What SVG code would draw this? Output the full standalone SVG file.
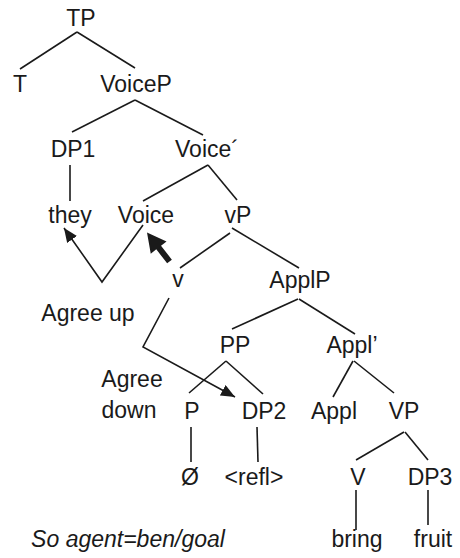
<svg xmlns="http://www.w3.org/2000/svg" width="460" height="558" viewBox="0 0 460 558">
<style>
text{font-family:"Liberation Sans",Arial,sans-serif;font-size:23px;fill:#1a1a1a;text-anchor:middle}
.it{font-style:italic}
.c line,.c polyline{stroke:#1a1a1a;stroke-width:1.6;fill:none}
.a{marker-end:url(#ah)}
</style>
<defs>
<marker id="ah" markerUnits="userSpaceOnUse" markerWidth="15" markerHeight="12" refX="14" refY="6" orient="auto">
<path d="M0,0 L14,6 L0,12 z" fill="#1a1a1a"/>
</marker>
</defs>
<rect width="460" height="558" fill="#fff"/>
<g class="c" id="connectors">
<line x1="77" y1="32" x2="20" y2="69"/>
<line x1="77" y1="32" x2="135" y2="68"/>
<line x1="135" y1="100" x2="72" y2="132"/>
<line x1="135" y1="100" x2="203" y2="135"/>
<line x1="70" y1="165" x2="70" y2="201"/>
<line x1="208" y1="165" x2="143" y2="201"/>
<line x1="208" y1="165" x2="237" y2="200"/>
<line x1="230" y1="233" x2="180" y2="268"/>
<line x1="232" y1="228" x2="299" y2="268"/>
<line x1="298" y1="299" x2="232" y2="329"/>
<line x1="299" y1="299" x2="355" y2="334"/>
<line x1="226" y1="361" x2="189" y2="393"/>
<line x1="226" y1="361" x2="263" y2="394"/>
<line x1="353" y1="361" x2="333" y2="397"/>
<line x1="354" y1="361" x2="394" y2="393"/>
<line x1="191" y1="427" x2="191" y2="462"/>
<line x1="257" y1="427" x2="258" y2="462"/>
<line x1="404" y1="432" x2="356" y2="460"/>
<line x1="405" y1="432" x2="428" y2="460"/>
<line x1="356" y1="490" x2="356" y2="530"/>
<line x1="428" y1="490" x2="428" y2="525"/>
<polyline class="a" points="143,225 102,282 64,228"/>
<polyline class="a" points="169,298 143,347 235,397"/>
<path d="M147,232.5 L166.55,241.38 L161.02,245.67 L171.87,259.66 L167.13,263.34 L156.28,249.35 L150.75,253.64 Z" fill="#1a1a1a"/>
</g>
<g id="TP"><text x="81" y="26">TP</text></g>
<g id="T"><text x="20" y="92">T</text></g>
<g id="VoiceP"><text x="136" y="92">VoiceP</text></g>
<g id="DP1"><text x="73" y="157">DP1</text></g>
<g id="VoiceBar"><text x="207" y="157">Voice´</text></g>
<g id="they"><text x="70" y="223">they</text></g>
<g id="Voice"><text x="146" y="223">Voice</text></g>
<g id="vP"><text x="238" y="223">vP</text></g>
<g id="v"><text x="178" y="287">v</text></g>
<g id="ApplP"><text x="300" y="288">ApplP</text></g>
<g id="AgreeUp"><text x="88" y="321">Agree up</text></g>
<g id="PP"><text x="235" y="353">PP</text></g>
<g id="ApplBar"><text x="352" y="353">Appl’</text></g>
<g id="AgreeDown"><text x="132" y="387">Agree</text><text x="129" y="418">down</text></g>
<g id="P"><text x="192" y="419">P</text></g>
<g id="DP2"><text x="264" y="419">DP2</text></g>
<g id="Appl"><text x="334" y="419">Appl</text></g>
<g id="VP"><text x="404" y="419">VP</text></g>
<g id="null"><text x="190" y="485">Ø</text></g>
<g id="refl"><text x="254" y="485">&lt;refl&gt;</text></g>
<g id="V"><text x="358" y="485">V</text></g>
<g id="DP3"><text x="430" y="485">DP3</text></g>
<g id="bring"><text x="357" y="547">bring</text></g>
<g id="fruit"><text x="433" y="547">fruit</text></g>
<g id="note"><text class="it" x="128" y="547">So agent=ben/goal</text></g>
</svg>
